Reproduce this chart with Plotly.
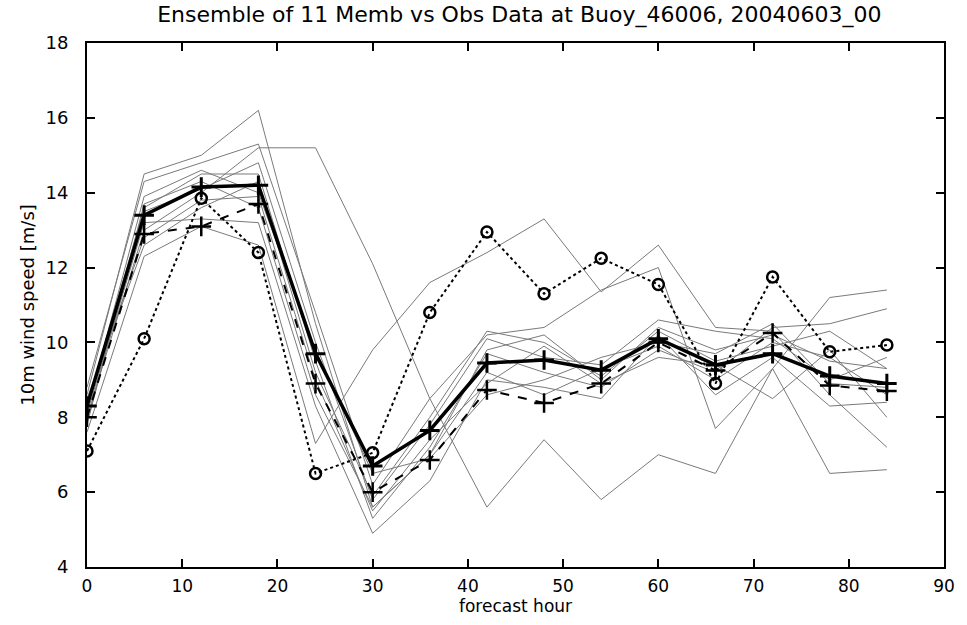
import plotly.graph_objects as go

hours = [0, 6, 12, 18, 24, 30, 36, 42, 48, 54, 60, 66, 72, 78, 84]

members = [
    [8.6, 14.5, 15.0, 16.2, 10.5, 5.6, 7.0, 9.8, 10.2, 9.0, 10.4, 9.8, 10.2, 9.5, 9.3],
    [8.0, 13.0, 14.0, 15.2, 15.2, 12.1, 8.5, 5.6, 7.4, 5.8, 7.0, 6.5, 9.3, 6.5, 6.6],
    [7.6, 12.3, 13.1, 12.6, 7.3, 9.8, 11.6, 12.4, 13.3, 11.35, 12.6, 10.4, 10.3, 8.6, 7.2],
    [8.8, 14.3, 14.8, 15.3, 10.8, 6.2, 8.5, 10.2, 10.4, 11.4, 12.0, 7.7, 9.3, 11.2, 11.4],
    [8.3, 13.6, 14.5, 14.5, 9.5, 5.3, 7.2, 9.7, 9.2, 8.8, 9.8, 9.2, 10.4, 10.5, 10.9],
    [8.1, 13.2, 13.3, 13.2, 8.3, 4.9, 6.3, 9.0, 8.8, 8.5, 10.2, 8.6, 9.6, 8.3, 8.4],
    [7.9, 13.5, 14.1, 14.8, 10.0, 5.8, 7.8, 10.1, 9.6, 9.4, 10.6, 10.3, 10.1, 9.0, 9.6],
    [8.4, 12.8, 13.8, 13.9, 9.0, 5.5, 7.4, 8.9, 9.9, 8.9, 9.6, 9.4, 8.5, 9.8, 8.0],
    [8.2, 13.9, 14.6, 14.0, 9.8, 6.5, 6.9, 8.6, 9.0, 9.6, 10.0, 9.7, 10.5, 8.9, 8.8],
    [8.5, 12.6, 13.6, 14.3, 9.2, 5.9, 8.0, 10.3, 10.0, 9.1, 10.3, 9.5, 9.9, 10.3, 9.3],
    [7.8, 13.7, 14.3, 13.6, 8.6, 5.6, 7.0, 9.2, 8.6, 9.3, 9.9, 9.0, 10.0, 9.6, 8.6],
]

ens_mean = [8.3, 13.4, 14.15, 14.2, 9.7, 6.7, 7.65, 9.45, 9.53, 9.26, 10.1, 9.4, 9.7, 9.1, 8.9]
control = [8.0, 12.9, 13.1, 13.7, 8.9, 6.0, 6.86, 8.73, 8.38, 8.9, 10.0, 9.25, 10.25, 8.85, 8.7]
obs = [7.1, 10.1, 13.85, 12.4, 6.5, 7.05, 10.8, 12.95, 11.3, 12.25, 11.55, 8.9, 11.75, 9.75, 9.93]

x_ticks = [0, 10, 20, 30, 40, 50, 60, 70, 80, 90]
y_ticks = [4, 6, 8, 10, 12, 14, 16, 18]

fig = go.Figure()
for m in members:
    fig.add_trace(go.Scatter(x=hours, y=m, mode="lines",
                             line=dict(color="#7a7a7a", width=1),
                             showlegend=False, hoverinfo="skip"))

fig.add_trace(go.Scatter(x=hours, y=obs, mode="lines+markers",
                         line=dict(color="black", width=2, dash="dot"),
                         marker=dict(symbol="circle-open", size=11,
                                     line=dict(color="black", width=2.5)),
                         showlegend=False))
fig.add_trace(go.Scatter(x=hours, y=control, mode="lines+markers",
                         line=dict(color="black", width=2, dash="dash"),
                         marker=dict(symbol="cross-thin", size=14,
                                     line=dict(color="black", width=2.5)),
                         showlegend=False))
fig.add_trace(go.Scatter(x=hours, y=ens_mean, mode="lines+markers",
                         line=dict(color="black", width=3.5),
                         marker=dict(symbol="cross-thin", size=14,
                                     line=dict(color="black", width=3)),
                         showlegend=False))

font_family = "DejaVu Sans, Liberation Sans, sans-serif"
fig.update_layout(
    width=967, height=625,
    margin=dict(l=87, r=16, t=43, b=58),
    paper_bgcolor="white", plot_bgcolor="white",
    font=dict(family=font_family, color="black", size=16),
    title=dict(text="Ensemble of 11 Memb vs Obs Data at Buoy_46006, 20040603_00",
               x=0.537, xanchor="center", y=0.977, yanchor="middle",
               font=dict(size=22)),
)
fig.update_xaxes(range=[0, 90], tickvals=x_ticks, ticktext=[str(v) for v in x_ticks],
                 ticks="inside", ticklen=8, tickwidth=1.5, tickcolor="black",
                 showline=True, linecolor="black", linewidth=2, mirror="allticks",
                 showgrid=False, zeroline=False,
                 tickfont=dict(size=17), ticklabelstandoff=3,
                 title=dict(text="forecast hour", font=dict(size=17), standoff=5))
fig.update_yaxes(range=[4, 18], tickvals=y_ticks, ticktext=[str(v) for v in y_ticks],
                 ticks="inside", ticklen=8, tickwidth=1.5, tickcolor="black",
                 showline=True, linecolor="black", linewidth=2, mirror="allticks",
                 showgrid=False, zeroline=False,
                 tickfont=dict(size=18), ticklabelstandoff=13,
                 title=dict(text="10m wind speed [m/s]", font=dict(size=18), standoff=6))

fig.write_html("out.html")
